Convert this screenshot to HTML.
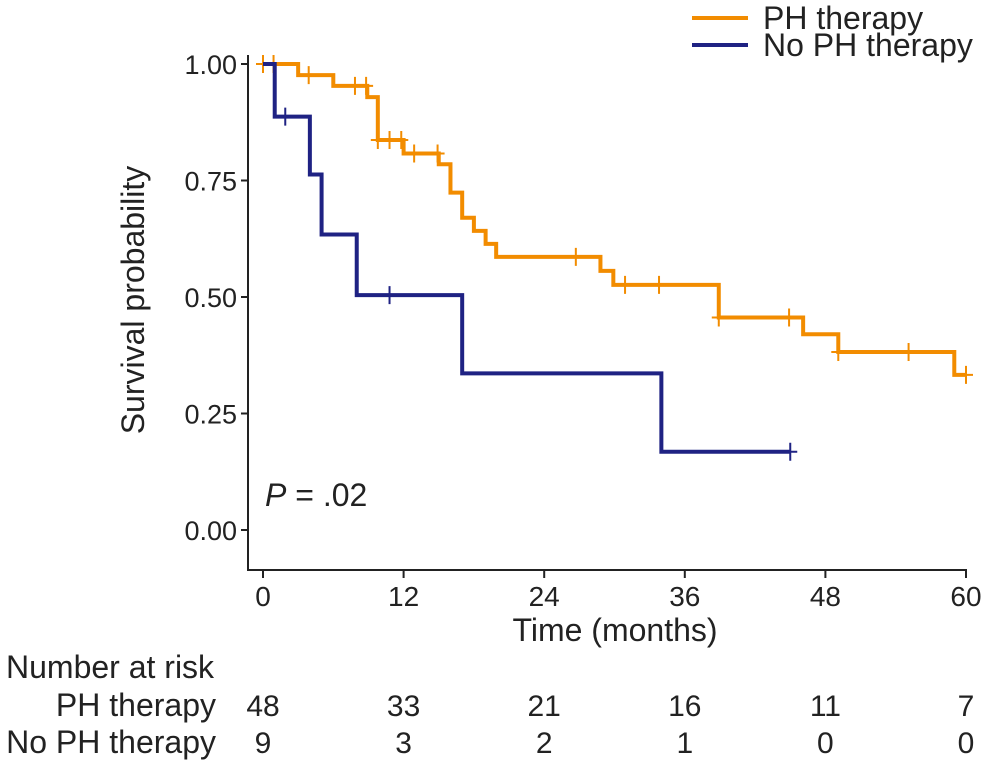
<!DOCTYPE html>
<html><head><meta charset="utf-8"><style>
body{margin:0;background:#fff;}
svg{display:block;font-family:"Liberation Sans",Arial,sans-serif;}
</style></head><body>
<svg id="chart" width="992" height="768" viewBox="0 0 992 768">
<g id="axes"></g>
<g id="curves"></g>
<g>
 <line x1="692" y1="18" x2="748" y2="18" stroke="#F28C00" stroke-width="4"/>
 <text x="763" y="29" font-size="32" fill="#222">PH therapy</text>
 <line x1="692" y1="45" x2="748" y2="45" stroke="#1F2283" stroke-width="4"/>
 <text x="763" y="56" font-size="32" fill="#222">No PH therapy</text>
</g>
<text x="265" y="506" font-size="32" fill="#222"><tspan font-style="italic">P</tspan> = .02</text>
<text transform="translate(144,300) rotate(-90)" text-anchor="middle" font-size="32" fill="#222">Survival probability</text>
<text x="615" y="641" text-anchor="middle" font-size="32" fill="#222">Time (months)</text>
<g id="risk">
 <text x="6" y="678" font-size="32" fill="#222">Number at risk</text>
 <text x="216" y="716" text-anchor="end" font-size="32" fill="#222">PH therapy</text>
 <text x="216" y="753" text-anchor="end" font-size="32" fill="#222">No PH therapy</text>
</g>
</svg>
<script>
const xTicks=[0,12,24,36,48,60];
const yTicks=[0,0.25,0.5,0.75,1];
const yTickLabels=["0.00","0.25","0.50","0.75","1.00"];
const phTimes=[0,3,6,8.9,9.8,12,15,16,17,18,19,19.9,28.8,29.9,38.9,46.1,49.1,59];
const phSurv=[1,0.976,0.953,0.929,0.837,0.808,0.785,0.724,0.670,0.642,0.614,0.586,0.556,0.526,0.456,0.420,0.382,0.333];
const phEnd=60;
const phCensor=[0,0.9,3.9,7.85,8.8,9.8,10.8,11.8,12.9,14.9,26.7,30.9,33.8,38.9,44.9,49.1,55.1,60];
const noTimes=[0,1,4,5,8,17,34];
const noSurv=[1,0.887,0.763,0.634,0.504,0.336,0.168];
const noEnd=45;
const noCensor=[1.9,10.8,45];
const riskPH=[48,33,21,16,11,7];
const riskNo=[9,3,2,1,0,0];

const NS="http://www.w3.org/2000/svg";
const X=m=>263+m*(966-263)/60;
const Y=p=>530-p*(530-64);
function mk(tag,attrs,parent){const e=document.createElementNS(NS,tag);for(const k in attrs)e.setAttribute(k,attrs[k]);parent.appendChild(e);return e;}
const axes=document.getElementById('axes');
let l=mk('line',{x1:248,y1:55,x2:248,y2:571,stroke:'#222','stroke-width':2},axes);


l=mk('line',{x1:247,y1:570,x2:967,y2:570,stroke:'#222','stroke-width':2},axes);


yTicks.forEach((v,i)=>{
 const t=mk('line',{x1:241,y1:Y(v),x2:248,y2:Y(v),stroke:'#222','stroke-width':2},axes);
 
 
 const tx=mk('text',{x:237,y:Y(v)+10,'text-anchor':'end','font-size':27,fill:'#222'},axes);
 tx.textContent=yTickLabels[i];
 
 
});
xTicks.forEach((v,i)=>{
 const t=mk('line',{x1:X(v),y1:570,x2:X(v),y2:578,stroke:'#222','stroke-width':2},axes);
 
 
 const tx=mk('text',{x:X(v),y:606,'text-anchor':'middle','font-size':28,fill:'#222'},axes);
 tx.textContent=v;
 
 
});
const curves=document.getElementById('curves');
function drawKM(times,surv,end,censor,color,name){
 let d=`M${X(times[0])},${Y(surv[0])}`;
 for(let i=1;i<times.length;i++){d+=` H${X(times[i])} V${Y(surv[i])}`;}
 d+=` H${X(end)}`;
 const p=mk('path',{d:d,fill:'none',stroke:color,'stroke-width':4},curves);
 
 
 censor.forEach(c=>{
  let s=surv[0];for(let i=1;i<times.length;i++){if(c>=times[i])s=surv[i];}
  const m=mk('path',{d:`M${X(c)-7},${Y(s)} H${X(c)+7} M${X(c)},${Y(s)-9} V${Y(s)+9}`,stroke:color,'stroke-width':2},curves);
  
  
 });
}
drawKM(phTimes,phSurv,phEnd,phCensor,'#F28C00','ph-therapy');
drawKM(noTimes,noSurv,noEnd,noCensor,'#1F2283','no-ph-therapy');
const risk=document.getElementById('risk');
xTicks.forEach((v,i)=>{
 let t=mk('text',{x:X(v),y:716,'text-anchor':'middle','font-size':30,fill:'#222'},risk);
 t.textContent=riskPH[i];
 
 
 t=mk('text',{x:X(v),y:753,'text-anchor':'middle','font-size':30,fill:'#222'},risk);
 t.textContent=riskNo[i];
 
 
});
</script>
</body></html>
